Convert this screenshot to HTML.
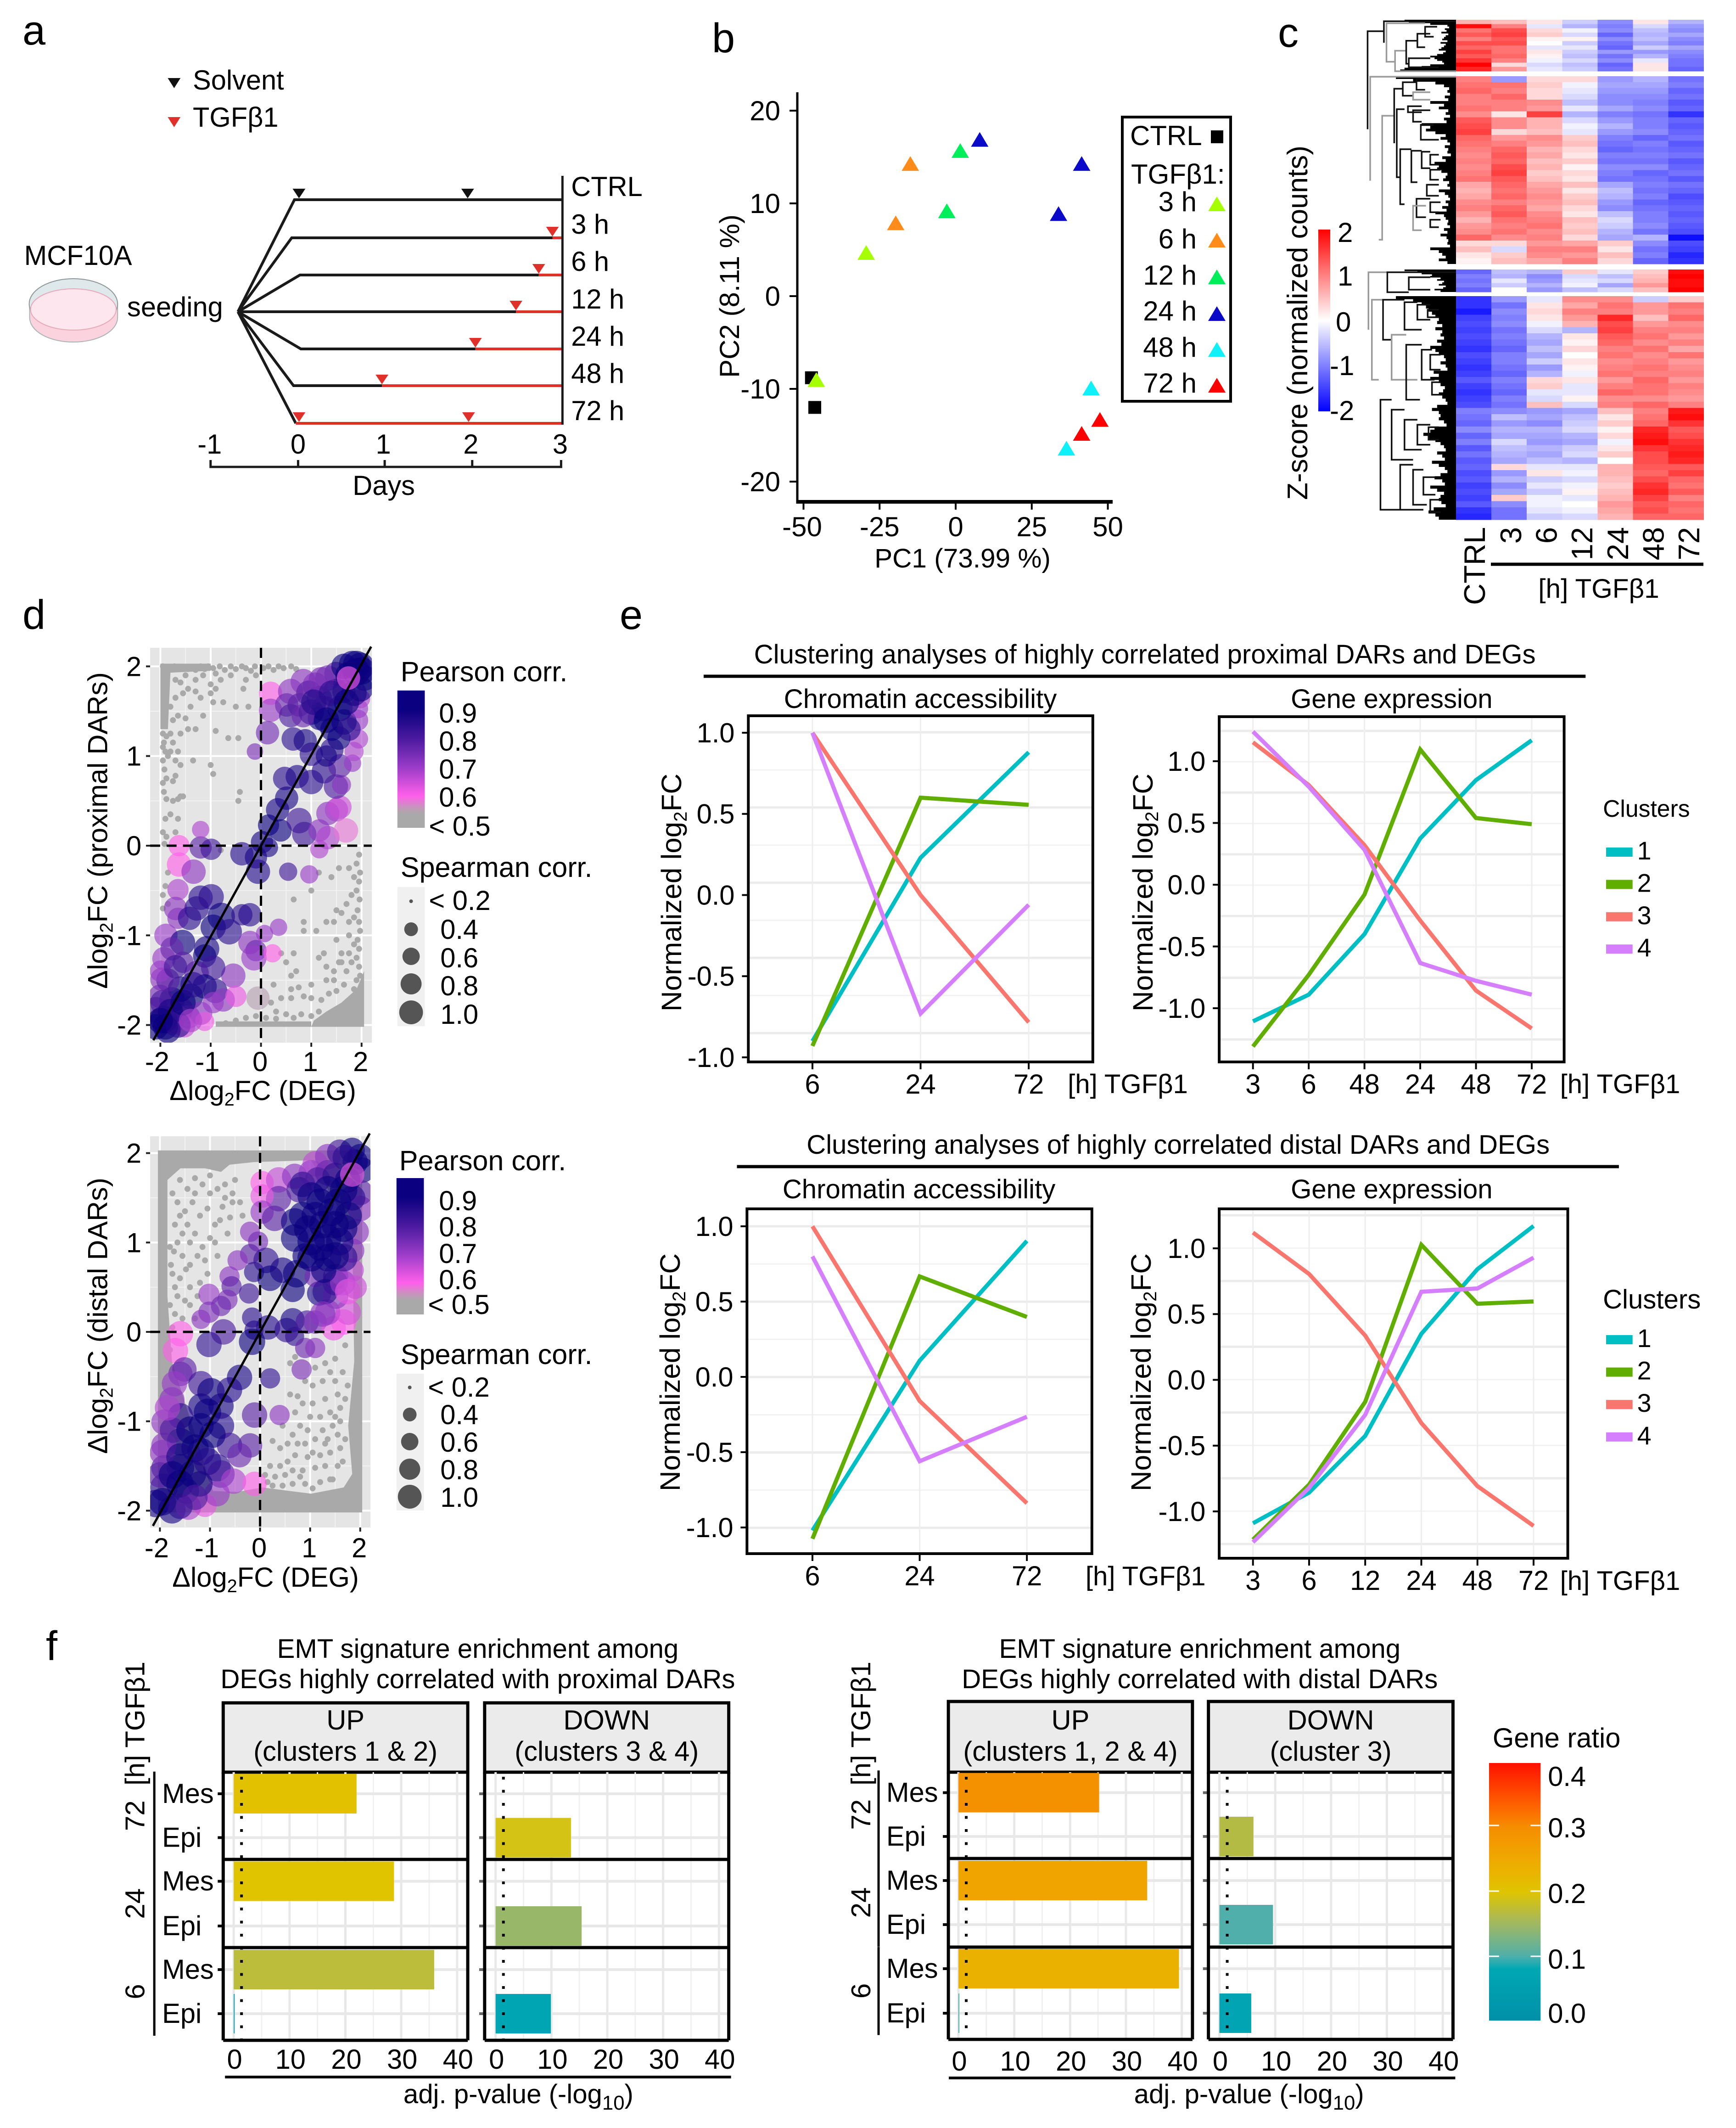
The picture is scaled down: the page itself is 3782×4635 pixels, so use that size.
<!DOCTYPE html>
<html lang="en">
<head>
<meta charset="utf-8">
<title>Chromatin accessibility and gene expression during TGFβ1-induced EMT</title>
<style>
html,body{margin:0;padding:0;background:#fff}
svg{display:block}
text{font-family:"Liberation Sans","DejaVu Sans",sans-serif;fill:#000;font-size:60px}
.letter{font-size:90px}
.mid{text-anchor:middle}
.end{text-anchor:end}
.t58{font-size:58.5px}
</style>
</head>
<body>
<svg id="figure" xmlns="http://www.w3.org/2000/svg" width="3782" height="4635" viewBox="0 0 3782 4635">
<defs>
<linearGradient id="zscoreGrad" x1="0" y1="0" x2="0" y2="1"><stop offset="0" stop-color="#ff0000"/><stop offset=".5" stop-color="#ffffff"/><stop offset="1" stop-color="#0000ff"/></linearGradient>
<linearGradient id="pearsonGrad" x1="0" y1="0" x2="0" y2="1"><stop offset="0" stop-color="#0a0080"/><stop offset=".14" stop-color="#0a0080"/><stop offset=".35" stop-color="#4a1a9e"/><stop offset=".56" stop-color="#9a3cc8"/><stop offset=".77" stop-color="#ff60ea"/><stop offset=".86" stop-color="#c09ab8"/><stop offset=".9" stop-color="#a9a9a9"/><stop offset="1" stop-color="#a9a9a9"/></linearGradient>
<linearGradient id="ratioGrad" x1="0" y1="0" x2="0" y2="1"><stop offset="0" stop-color="#ff1000"/><stop offset=".15" stop-color="#ff5a00"/><stop offset=".25" stop-color="#f58e00"/><stop offset=".38" stop-color="#efaa00"/><stop offset=".5" stop-color="#e0c400"/><stop offset=".62" stop-color="#a4b85f"/><stop offset=".75" stop-color="#50afaa"/><stop offset=".8" stop-color="#00a8b4"/><stop offset="1" stop-color="#0090a8"/></linearGradient>
<clipPath id="clipProx"><rect x="329" y="1411" width="486" height="860"/></clipPath>
<clipPath id="clipDist"><rect x="329" y="2475" width="483" height="852"/></clipPath>
</defs>

<!-- PANEL LETTERS -->
<text class="letter" x="49" y="97">a</text>
<text class="letter" x="1551" y="114">b</text>
<text class="letter" x="2784" y="102">c</text>
<text class="letter" x="49" y="1370">d</text>
<text class="letter" x="1350" y="1370">e</text>
<text class="letter" x="100" y="3616">f</text>

<!-- PANEL A -->
<g id="panelA" transform="translate(0 -4) scale(.993 1)">
  <polygon points="368,174 396,174 382,196" fill="#111"/>
  <text x="423" y="199">Solvent</text>
  <polygon points="368,259 396,259 382,281" fill="#e0302a"/>
  <text x="423" y="280">TGFβ1</text>
  <g fill="none" stroke="#1a1a1a" stroke-width="6">
    <path d="M522 683L646 439H1234"/>
    <path d="M522 683L640 522H1212"/>
    <path d="M522 683L658 603H1182"/>
    <path d="M522 683H1132"/>
    <path d="M522 683L660 764H1043"/>
    <path d="M522 683L644 844H838"/>
    <path d="M522 683L649 926"/>
  </g>
  <g fill="none" stroke="#e0302a" stroke-width="6">
    <path d="M1212 522H1234"/>
    <path d="M1182 603H1234"/>
    <path d="M1132 683H1234"/>
    <path d="M1043 764H1234"/>
    <path d="M838 844H1234"/>
    <path d="M649 926H1234"/>
  </g>
  <path d="M1234 387V929" stroke="#1a1a1a" stroke-width="5"/>
  <g fill="#e0302a">
    <polygon points="1198,498 1226,498 1212,519"/>
    <polygon points="1168,579 1196,579 1182,600"/>
    <polygon points="1118,659 1146,659 1132,680"/>
    <polygon points="1029,740 1057,740 1043,761"/>
    <polygon points="824,820 852,820 838,841"/>
    <polygon points="642,902 670,902 656,923"/>
    <polygon points="1014,902 1042,902 1028,923"/>
  </g>
  <polygon points="642,415 670,415 656,436" fill="#111"/>
  <polygon points="1012,415 1040,415 1026,436" fill="#111"/>
  <text x="1253" y="431">CTRL</text>
  <text x="1253" y="513">3 h</text>
  <text x="1253" y="594">6 h</text>
  <text x="1253" y="676">12 h</text>
  <text x="1253" y="757">24 h</text>
  <text x="1253" y="838">48 h</text>
  <text x="1253" y="919">72 h</text>
  <path d="M462 1006V1021H1231V1006M654 1006V1021M844 1006V1021M1036 1006V1021" fill="none" stroke="#1a1a1a" stroke-width="5"/>
  <text class="mid" x="460" y="992">-1</text>
  <text class="mid" x="654" y="992">0</text>
  <text class="mid" x="841" y="992">1</text>
  <text class="mid" x="1033" y="992">2</text>
  <text class="mid" x="1229" y="992">3</text>
  <text class="mid" x="842" y="1082">Days</text>
  <text x="53" y="581">MCF10A</text>
  <text x="279" y="693">seeding</text>
  <g>
    <path d="M65 666V695C65 726 108 749 161 749C214 749 258 726 258 695V666Z" fill="#fbd3de" stroke="#aab4b6" stroke-width="2"/>
    <ellipse cx="161" cy="666" rx="97" ry="55" fill="#dfe8ea" stroke="#8d9698" stroke-width="2"/>
    <ellipse cx="161" cy="678" rx="94" ry="45" fill="#fde6ee" stroke="#e8a8ba" stroke-width="2"/>
  </g>
</g>

<!-- PANEL B -->
<g id="panelB">
  <text class="mid t58" x="2097" y="1236">PC1 (73.99 %)</text>
  <text class="mid" transform="translate(1610 645) rotate(-90)">PC2 (8.11 %)</text>
  <rect x="2445" y="255" width="236" height="619" fill="#fff" stroke="#000" stroke-width="6"/>
  <text x="2462" y="316">CTRL</text>
  <text x="2464" y="400">TGFβ1:</text>
  <text class="end" x="2607" y="460">3 h</text>
  <text class="end" x="2607" y="541">6 h</text>
  <text class="end" x="2607" y="620">12 h</text>
  <text class="end" x="2607" y="698">24 h</text>
  <text class="end" x="2607" y="777">48 h</text>
  <text class="end" x="2607" y="855">72 h</text>
</g>

<!-- PANEL C -->
<g id="panelC">
  <text class="mid" transform="translate(2848 703) rotate(-90)" style="font-size:62px">Z-score (normalized counts)</text>
  <rect x="2872" y="500" width="26" height="396" fill="url(#zscoreGrad)"/>
  <text x="2914" y="527">2</text>
  <text x="2914" y="622">1</text>
  <text x="2910" y="722">0</text>
  <text x="2897" y="817">-1</text>
  <text x="2897" y="915">-2</text>
  <path d="M3248 1229H3711" stroke="#000" stroke-width="7"/>
  <text class="mid t58" x="3483" y="1302">[h] TGFβ1</text>
</g>

<!-- PANEL D legends and titles -->
<g id="panelD" transform="scale(.994 1)">
  <text class="mid" transform="translate(235 1809) rotate(-90)" style="font-size:61px">Δlog<tspan dy="12" font-size="40">2</tspan><tspan dy="-12">FC (proximal DARs)</tspan></text>
  <text class="mid" x="576" y="2396">Δlog<tspan dy="12" font-size="40">2</tspan><tspan dy="-12">FC (DEG)</tspan></text>
  <text class="mid" transform="translate(235 2866) rotate(-90)" style="font-size:61px">Δlog<tspan dy="12" font-size="40">2</tspan><tspan dy="-12">FC (distal DARs)</tspan></text>
  <text class="mid" x="582" y="3456">Δlog<tspan dy="12" font-size="40">2</tspan><tspan dy="-12">FC (DEG)</tspan></text>

  <text x="878" y="1484" style="font-size:61.5px">Pearson corr.</text>
  <rect x="871" y="1504" width="60" height="299" fill="url(#pearsonGrad)"/>
  <text x="962" y="1574">0.9</text>
  <text x="962" y="1635">0.8</text>
  <text x="962" y="1696">0.7</text>
  <text x="962" y="1757">0.6</text>
  <text x="940" y="1820">&lt; 0.5</text>
  <text x="878" y="1910" style="font-size:61.5px">Spearman corr.</text>
  <rect x="871" y="1932" width="60" height="303" fill="#f0f0f0"/>
  <g fill="#555">
    <circle cx="901" cy="1963" r="4"/>
    <circle cx="901" cy="2024" r="15"/>
    <circle cx="901" cy="2083" r="19"/>
    <circle cx="901" cy="2143" r="23"/>
    <circle cx="901" cy="2205" r="26"/>
  </g>
  <text x="940" y="1982">&lt; 0.2</text>
  <text x="965" y="2045">0.4</text>
  <text x="965" y="2107">0.6</text>
  <text x="965" y="2168">0.8</text>
  <text x="965" y="2230">1.0</text>

  <text x="875" y="2549" style="font-size:61.5px">Pearson corr.</text>
  <rect x="869" y="2566" width="60" height="297" fill="url(#pearsonGrad)"/>
  <text x="962" y="2636">0.9</text>
  <text x="962" y="2693">0.8</text>
  <text x="962" y="2751">0.7</text>
  <text x="962" y="2808">0.6</text>
  <text x="938" y="2862">&lt; 0.5</text>
  <text x="878" y="2971" style="font-size:61.5px">Spearman corr.</text>
  <rect x="869" y="2992" width="60" height="298" fill="#f0f0f0"/>
  <g fill="#555">
    <circle cx="898" cy="3022" r="4"/>
    <circle cx="898" cy="3081" r="15"/>
    <circle cx="898" cy="3140" r="19"/>
    <circle cx="898" cy="3200" r="23"/>
    <circle cx="898" cy="3260" r="26"/>
  </g>
  <text x="938" y="3042">&lt; 0.2</text>
  <text x="965" y="3102">0.4</text>
  <text x="965" y="3162">0.6</text>
  <text x="965" y="3222">0.8</text>
  <text x="965" y="3282">1.0</text>
</g>

<!-- PANEL E static -->
<g id="panelE" transform="translate(1350 0) scale(.994 1) translate(-1350 0)">
  <text class="mid t58" x="2501" y="1445">Clustering analyses of highly correlated proximal DARs and DEGs</text>
  <path d="M1534 1473H3467" stroke="#000" stroke-width="7"/>
  <text class="mid t58" x="2574" y="2513">Clustering analyses of highly correlated distal DARs and DEGs</text>
  <path d="M1607 2541H3540" stroke="#000" stroke-width="7"/>
  <text class="mid t58" x="2009" y="1542">Chromatin accessibility</text>
  <text class="mid t58" x="3042" y="1542">Gene expression</text>
  <text class="mid t58" x="2006" y="2610">Chromatin accessibility</text>
  <text class="mid t58" x="3042" y="2610">Gene expression</text>
  <text x="3505" y="1779" style="font-size:52px">Clusters</text>
  <text x="3505" y="2850" style="font-size:58.5px">Clusters</text>
  <text class="t58" x="2332" y="2381">[h] TGFβ1</text>
  <text class="t58" x="3411" y="2381">[h] TGFβ1</text>
  <text class="t58" x="2371" y="3453">[h] TGFβ1</text>
  <text class="t58" x="3411" y="3463">[h] TGFβ1</text>
</g>

<!-- PANEL F static -->
<g id="panelFLeft" transform="translate(200 0) scale(.994 1) translate(-200 0)">
  <text class="mid t58" x="1046" y="3611">EMT signature enrichment among</text>
  <text class="mid t58" x="1046" y="3677">DEGs highly correlated with proximal DARs</text>
  <text class="mid t58" x="1135" y="4581">adj. p-value (-log<tspan dy="14" font-size="44">10</tspan><tspan dy="-14">)</tspan></text>
  <path d="M492 4524H1601" stroke="#000" stroke-width="6"/>
</g>
<g id="panelFRight" transform="translate(1750 0) scale(.994 1) translate(-1750 0)">
  <text class="mid t58" x="2619" y="3611">EMT signature enrichment among</text>
  <text class="mid t58" x="2619" y="3677">DEGs highly correlated with distal DARs</text>
  <text class="mid t58" x="2727" y="4581">adj. p-value (-log<tspan dy="14" font-size="44">10</tspan><tspan dy="-14">)</tspan></text>
  <path d="M2069 4526H3179" stroke="#000" stroke-width="6"/>
  <text x="3261" y="3806">Gene ratio</text>
  <rect x="3253" y="3840" width="113" height="561" fill="url(#ratioGrad)"/>
  <path d="M3253 3976h22M3344 3976h22M3253 4119h22M3344 4119h22M3253 4261h22M3344 4261h22" stroke="#fff" stroke-width="3"/>
  <text x="3382" y="3890">0.4</text>
  <text x="3382" y="4002">0.3</text>
  <text x="3382" y="4145">0.2</text>
  <text x="3382" y="4288">0.1</text>
  <text x="3382" y="4406">0.0</text>
</g>
</svg>

<script>
/* ---------- PANEL B DATA ---------- */
const pcaTicksX = [-50, -25, 0, 25, 50];
const pcaTicksY = [20, 10, 0, -10, -20];
const pcaCtrlX = [-47.4, -46.3];
const pcaCtrlY = [-8.8, -12.0];
const pca3hX = [-29.4, -45.8];
const pca3hY = [4.7, -9.0];
const pca6hX = [-19.7, -14.9];
const pca6hY = [7.9, 14.3];
const pca12hX = [-2.9, 1.5];
const pca12hY = [9.2, 15.7];
const pca24hX = [7.9, 41.4, 33.8];
const pca24hY = [16.9, 14.3, 8.9];
const pca48hX = [44.5, 36.4];
const pca48hY = [-9.9, -16.4];
const pca72hX = [47.4, 41.4];
const pca72hY = [-13.3, -14.8];

/* ---------- PANEL C DATA ---------- */
const heatColumns = ['CTRL', '3', '6', '12', '24', '48', '72'];
const heatBlock1 = [
[.6,.5,.2,-.4,-.9,.2,-.6],[1.9,1.0,-.2,-.6,-1.0,-.3,-.8],[1.1,1.4,.3,-.1,-.9,-.5,-.9],[1.3,1.5,.4,-.3,-1.2,-.6,-.7],
[1.0,1.3,.1,.1,-.9,-.5,-.9],[1.4,1.4,.0,-.4,-1.1,-.7,-1.0],[1.2,1.1,-.2,-.2,-1.2,-.4,-.7],[1.5,1.1,.2,-.4,-.8,-.8,-.9],
[1.3,1.2,.1,-.5,-1.1,-.6,-1.0],[1.6,1.0,-.1,-.3,-.9,-.2,-1.1],[2.0,.3,-.3,-.5,-1.2,.2,-1.1],[1.7,.8,-.2,-.4,-1.1,.2,-1.2]];
const heatBlock2 = [
[1.0,-.8,.3,.3,-.8,-.6,-1.1],[1.1,1.1,.4,-.1,-.7,-.7,-1.0],[1.2,1.0,.3,-.2,-.8,-.8,-1.2],[1.0,1.2,.3,-.3,-.9,-.9,-1.1],
[1.0,1.0,.9,-.5,-.9,-1.0,-1.3],[1.1,1.0,.8,-.2,-.7,-.9,-1.2],[.9,.2,1.5,-.6,-1.0,-1.1,-1.6],[1.3,.9,.6,-.3,-.8,-1.0,-1.2],
[1.4,.9,.6,-.1,-.6,-1.0,-1.3],[1.5,.3,.5,-.2,-.8,-.9,-1.2],[1.2,.8,.9,.4,-1.0,-1.2,-1.1],[1.1,1.0,.8,.5,-1.1,-1.0,-1.3],
[1.0,1.2,.6,.3,-1.2,-1.1,-1.2],[.9,1.3,.7,.2,-1.0,-1.0,-1.1],[1.0,1.2,.5,.4,-1.1,-1.1,-1.3],[.9,1.4,.6,.1,-.9,-.9,-1.2],
[1.0,1.5,.4,.3,-1.0,-1.2,-1.1],[1.1,1.3,.5,.2,-1.1,-1.1,-1.3],[.7,1.2,.7,.5,-.7,-1.0,-1.1],[.6,1.1,.8,.2,-.5,-1.1,-1.2],
[.7,1.2,.9,.4,-.6,-1.0,-1.4],[.9,1.0,.8,.5,-.8,-1.2,-1.3],[1.0,1.2,.7,.3,-.9,-1.1,-1.2],[.8,1.3,.9,.2,-.5,-1.0,-1.3],
[.6,1.1,1.0,.5,-.3,-1.0,-1.2],[.8,1.0,1.1,.4,-.4,-.9,-1.3],[.9,1.1,.9,.5,-.6,-1.1,-1.4],[1.2,.9,1.0,.3,-.7,-.6,-1.9],
[.3,.3,.8,.7,.4,-.9,-1.4],[.5,-.3,1.0,1.0,.2,-1.1,-1.5],[.2,.4,.9,.8,.5,-1.0,-1.7],[.1,.5,.7,1.0,.3,-1.2,-1.6]];
const heatBlock3 = [[-1.2,-.5,-.6,.4,-.2,.4,1.9],[-1.0,-.6,-.9,-.3,-.5,.5,2.0],[-1.1,-.2,-.8,-.2,-.3,.6,1.9],[-1.0,-.4,-.6,-.1,-.7,.8,1.9],[-1.2,.0,-.8,-.5,-.3,.5,2.0]];
const heatBlock4 = [
[-1.6,-.8,-.2,.9,.9,-.4,.4],[-1.6,-1.1,.2,.7,1.1,.8,1.1],[-1.8,-.9,.3,1.0,1.0,.8,1.0],[-1.5,-1.0,.2,.8,1.7,.5,1.2],
[-1.4,-.9,-.1,.6,1.4,.8,.9],[-1.5,-1.1,-.3,-.6,1.5,1.0,1.0],[-1.4,-1.0,-.6,.2,1.3,1.1,.8],[-1.5,-1.1,-.7,.1,1.2,.9,1.0],
[-1.6,-1.2,-.5,.3,1.0,1.1,.7],[-1.4,-1.0,-.7,.0,1.1,.9,1.1],[-1.5,-1.0,-.4,.2,.9,1.0,.8],[-1.6,-1.1,-.8,.1,1.0,1.1,.9],
[-1.5,-1.2,-.6,-.1,1.1,1.0,1.0],[-1.3,-1.0,.3,.2,.8,1.2,.8],[-1.5,-1.1,.4,-.2,1.0,1.1,1.0],[-1.6,-1.2,-.2,-.2,1.2,1.1,.9],
[-1.5,-1.0,-.3,.1,.9,.9,.8],[-1.4,-1.1,.5,-.3,1.0,1.2,1.0],[-1.0,-.9,-.8,-.7,.5,1.0,1.8],[-1.1,-.5,-.7,-.5,.2,1.1,1.9],
[-1.2,-.8,-.9,-.4,.4,1.2,1.6],[-.9,-.6,-.6,-.3,.1,1.7,1.3],[-1.2,-.7,-.7,-.6,.3,1.8,1.4],[-1.0,-.3,-.8,-.7,-.1,1.9,1.6],
[-1.3,-.5,-.6,-.4,.2,1.6,1.7],[-1.1,-.6,-.7,-.3,.4,1.4,1.8],[-1.3,-.7,-.5,-.6,.0,1.4,1.7],[-1.2,.3,-.2,-.2,.6,1.3,1.3],
[-1.4,-.8,.2,-.1,.6,1.2,1.5],[-1.3,-.6,-.4,-.3,.5,1.4,1.2],[-1.5,-.9,-.2,-.1,.4,1.6,1.1],[-1.4,-.7,-.4,.1,.5,1.7,1.3],
[-1.5,.4,-.1,-.2,.6,1.5,1.0],[-1.3,-.9,-.1,.0,.8,1.3,1.2],[-1.6,-1.1,-.2,-.1,.7,1.4,1.1],[-1.7,-1.1,-.4,-.3,.6,1.2,1.2]];
const dendroBrackets = [
[1.03,.023,.219,.84,1.03,0],[.84,.003,.046,0,.84,0],[.81,.007,.084,.36,.71,1],[.71,.062,.103,.58,0,1],[.58,.042,.088,.45,.55,0],[.45,.028,.055,.3,.36,0],[.36,.014,.034,.22,.26,0],[.55,.077,.095,.3,.2,0],
[1.0,.114,.322,0,1.0,1],[.86,.192,.44,.72,.9,1],[.72,.138,.247,.62,.72,0],[.69,.179,.315,.6,.65,0],[.65,.259,.369,.52,.6,0],[.62,.125,.152,.46,.5,0],[.46,.118,.14,.3,.36,0],[.5,.145,.16,.3,.3,1],[.56,.173,.185,.4,.4,0],[.5,.181,.204,.3,.4,0],[.41,.21,.24,.26,.2,0],[.52,.262,.325,.4,.45,0],[.4,.264,.297,.3,.3,0],[.3,.27,.29,.2,.2,0],[.3,.3,.32,.18,.2,0],[.46,.358,.395,.3,.35,0],[.5,.372,.421,.35,.4,1],[.34,.33,.352,.2,.2,0],[.3,.365,.385,.18,.2,0],[.3,.4,.415,.18,.2,0],
[1.02,.505,.62,.8,1.02,1],[.8,.505,.545,0,.55,0],[.55,.515,.54,.3,.3,0],[.98,.56,.72,.85,.9,1],[.85,.56,.64,.6,.75,0],[.6,.565,.62,.45,.4,0],[.45,.57,.6,.3,.3,0],[.33,.58,.595,.2,.2,0],[.75,.63,.72,.58,.45,1],[.58,.65,.76,.4,.42,0],[.4,.66,.72,.28,.25,0],[.3,.67,.7,.18,.18,0],[.28,.725,.75,.18,.18,0],
[.88,.76,.98,.75,.65,0],[.75,.78,.88,.6,.5,0],[.6,.8,.86,.45,.4,0],[.45,.81,.85,.3,.3,0],[.32,.815,.84,.2,.2,0],[.65,.89,.98,.5,.38,0],[.5,.9,.97,.38,.34,0],[.38,.915,.95,.24,.24,0],[.3,.96,.985,.18,.18,0]];
const dendroFringe1 = [.6,.55,.3,.1,.08,.13,.11,.17,.09,.12,.14,.16,.1,.18,.12,.14,.17,.2,.12,.15,.22,.3,.25,.22,.16,.14,.3,.4,.6,.65];
const dendroFringe2 = [.7,.5,.24,.14,.08,.1,.07,.13,.09,.3,.14,.2,.09,.12,.07,.14,.11,.4,.3,.35,.24,.12,.18,.1,.07,.13,.09,.1,.06,.16,.12,.25,.2,.22,.17,.1,.12,.15,.08,.1,.07,.2,.13,.09,.07,.12,.09,.16,.11,.24,.14,.12,.09,.1,.07,.14,.1,.18,.11,.09,.1,.07,.3,.2,.16,.12,.2,.1];
const dendroFringe3 = [.6,.45,.4,.28,.3,.18,.22,.14,.16,.2,.12,.15,.25,.18];
const dendroFringe4 = [.7,.5,.4,.35,.32,.28,.24,.2,.22,.16,.24,.16,.18,.14,.22,.17,.3,.24,.2,.14,.12,.18,.12,.1,.26,.2,.3,.2,.18,.13,.15,.2,.16,.12,.1,.22,.28,.2,.18,.2,.14,.11,.25,.3,.38,.32,.24,.18,.14,.12,.22,.16,.13,.28,.2,.13,.1,.18,.25,.16,.13,.3,.22,.14,.18,.2,.17,.12,.26,.32,.24,.2];

/* ---------- PANEL D DATA ---------- [x, y] and [x, y, pearson, spearman] */
const scatterTicks = [-2, -1, 0, 1, 2];
const proximalDenseTopLeft = [[-2,2.03],[-1,2.03],[-1,1.95],[-1.8,1.93],[-1.85,1.3],[-2,1.3]];
const proximalDenseBottom = [[-.9,-2.02],[1,-2.02],[1,-1.96],[-.9,-1.96]];
const proximalDenseCorner = [[1,-2.02],[2.05,-2.02],[2.05,-1.4],[1.9,-1.6],[1.6,-1.75],[1.3,-1.85],[1.05,-1.95]];
const proximalBackground = [
[-1.95,2],[-1.72,2],[-1.45,1.97],[-1.3,1.96],[-1.2,2],[-1.12,1.97],[-1.05,2],[-.95,1.98],[-.82,2],[-.72,1.96],[-.6,2],[-.5,1.97],[-.38,2],[-.3,1.98],[-.2,1.95],[-.12,2],[.05,1.98],[.15,2],[.25,1.96],[.35,2],[.45,1.98],[.6,2],[.7,1.97],
[-1.95,1.25],[-1.88,1.22],[-1.93,1.15],[-1.95,1.1],[-1.9,1.05],[-1.85,1],[-1.95,.95],[-1.92,.85],[-1.88,.75],[-1.95,.7],[-1.93,.6],[-1.88,.52],[-1.9,.3],[-1.95,.15],[-1.88,.1],[-1.92,.02],
[-1.7,1.85],[-1.6,1.82],[-1.5,1.9],[-1.3,1.85],[-1,1.8],[-.8,1.85],[-.3,1.85],[-1.45,1.75],[-1.2,1.65],[-1,1.7],[-.95,1.6],[-.9,1.75],[-1.4,1.55],[-1.15,1.45],[-.75,1.6],[-.5,1.55],[-.25,1.55],[-1.65,1.45],[-1.5,1.42],[-1.45,1.3],[-1.3,1.3],[-1.6,1.25],[-.9,1.28],[-.65,1.2],[-.45,1.2],[-1.75,1.15],[-1.8,1.05],[-1.65,1.05],[-1.35,.95],[-1,.9],[-.95,.8],[-1.7,.78],[-1.75,.72],[-1.6,.55],[-1.65,.52],[-1.55,.55],[-.42,.6],[-.45,.5],[-1.65,.3],[-1.7,.15],[-.8,-.05],
[-1.8,1.55],[-1.75,1.4],[-1.8,1.25],[-1.7,1.65],[-1.55,1.7],[-1.3,1.72],[-1.7,.95],[-1.6,.9],[-1.75,.5],[-1.8,.35],[-1.85,-.3],[-1.9,-.45],[-1.95,-.55],[-1.95,-.7],[-1.85,-.65],[-.35,1.75],[-.1,1.9],[-.6,1.9],[-.9,1.92],[-1.15,1.9],
[1.95,-.1],[1.9,-.2],[1.97,-.3],[1.95,-.4],[1.9,-.5],[1.96,-.6],[1.92,-.72],[1.95,-.85],[1.97,-.95],[1.92,-1.05],[1.95,-1.15],[1.9,-1.25],[1.95,-1.35],[1.97,-1.45],[1.9,-1.5],[1.85,-1.6],
[1.85,-.35],[1.8,-.55],[1.85,-.8],[1.85,-1.1],[1.8,-1.3],[1.65,-1.55],[1.5,-1.62],[1.55,-1.3],
[1.55,-.25],[1.75,-.25],[1.4,-.35],[1.15,-.3],[1.7,-.65],[1.6,-.75],[1.5,-.72],[1.45,-.85],[1.3,-.85],[1.75,-.85],[.85,-.85],[.65,-.6],[1,-.5],[.85,-.95],[1.1,-.95],[1.5,-1.05],[1.75,-1],[1.6,-1.2],[1.75,-1.2],[1.25,-1.2],[1.15,-1.25],[.65,-1.2],[.4,-1.2],[.5,-1.3],[1.3,-1.35],[1.45,-1.4],[1.7,-1.4],[1.6,-1.3],[.7,-1.4],[.6,-1.45],[1.45,-1.5],[1.3,-1.5],[1,-1.55],[.75,-1.58],[.6,-1.6],[.25,-1.55],[.2,-1.75],[.4,-1.7],[.6,-1.7],[.85,-1.68],[1,-1.7],[1.2,-1.72],[1.35,-1.65],[.3,-1.85],[.5,-1.88],[.8,-1.88],
[-.7,-1.98],[-.5,-1.95],[-.3,-1.92],[-.1,-1.9],[.1,-1.92],[.3,-1.93],[.65,-1.92],[1,-1.9],[1.15,-1.85]];
const proximalCorrelated = [
[.19,1.7,.6,.8],[.19,1.51,.7,.8],[.13,1.26,.75,.8],[-.12,1.05,.74,.45],[.64,1.19,.85,.8],[.88,1.17,.88,.8],[1,1.02,.85,.8],[.47,.75,.85,.8],[.72,.77,.87,.8],[1,.71,.85,.85],[1.25,.83,.85,.85],[.51,.53,.88,.8],[.33,.4,.88,.8],[.15,.23,.92,.7],[.39,.17,.92,.75],[.02,.04,.88,.75],[.15,-.02,.88,.6],[.76,.28,.82,.9],[.86,.13,.82,.85],[1.16,.17,.72,.75],[1.16,-.04,.68,.55],[1.33,.09,.68,.8],[1.33,.36,.72,.8],[1.5,.4,.68,.8],[1.57,.43,.65,.8],[1.69,.17,.58,.85],[1.49,.66,.8,.85],[1.6,.68,.72,.6],[1.57,.89,.78,.8],[1.41,1.07,.85,.8],[1.82,.92,.7,.5],[1.94,1.19,.68,.6],[1.85,1.05,.68,.6],[1.92,1.4,.7,.7],[1.3,1,.88,.7],
[.59,1.72,.72,.9],[.84,1.83,.72,.9],[1.08,1.79,.72,.9],[1.33,1.87,.75,.9],[1.49,1.92,.78,.8],[.51,1.57,.76,.8],[.76,1.57,.78,.8],[.59,1.45,.8,.8],[1,1.49,.88,.9],[1.25,1.53,.88,.9],[1.16,1.42,.88,.8],[1.57,1.53,.92,.9],[1.65,1.38,.92,.9],[1.41,1.3,.92,.8],[.84,1.45,.76,.8],[1.16,1.64,.82,.9],[1.49,1.72,.85,.9],[1.94,1.53,.7,.6],[1.98,1.64,.68,.6],[1.98,1.75,.9,.9],[1.65,1.72,.86,.8],[1.9,1.94,.92,1],[1.82,2.02,.96,1],[1.98,2,.96,1],[2.06,1.87,.92,.9],[1.65,2,.93,.9],
[.95,1.7,.78,.9],[1.2,1.85,.74,.9],[1.4,1.7,.85,.9],[1.05,1.6,.86,.9],[1.3,1.4,.9,.9],[1.55,1.2,.9,.8],[1.7,1.6,.9,.9],[1.85,1.7,.88,.9],[1.75,1.9,.93,1],[2,1.95,.96,1],[1.9,2.02,.96,1],[1.75,1.3,.85,.8],[1.74,1.87,.6,.8],
[-1.63,0,.6,.7],[-1.63,-.21,.6,.85],[-1.34,-.29,.72,.85],[-1.65,-.49,.68,.7],[-1.7,-.7,.72,.8],[-1.65,-.81,.72,.7],[-.99,-.57,.85,.9],[-1.2,-.58,.85,.85],[-1.28,-.7,.85,.85],[-1.42,-.81,.85,.8],[-.79,-.79,.9,1],[-.95,-.91,.9,.9],[-.63,-.96,.85,.9],[-.22,-.77,.85,.8],[-.38,-.77,.85,.7],[-1.89,-1,.7,.8],[-1.56,-1.08,.9,.9],[-1.08,-1.15,.88,.9],[-1.12,-1.23,.9,.8],[-.22,-1.08,.72,.8],[-.1,-1.17,.76,.7],[-.14,-1.25,.7,.9],[.23,-1.2,.6,.55],[.07,-.98,.7,.5],[.35,-.91,.7,.5],[.54,-.29,.82,.55],[.96,-.32,.7,.55],[-.38,-.09,.86,.8],[-.1,-.13,.88,.75],[-.06,-.29,.86,.85],[-1.2,-.02,.78,.75],[-.99,-.04,.82,.7],[-1.2,.18,.68,.5],[-.55,-1.45,.72,.85],[-.95,-1.36,.82,.85],[-1.28,-1.42,.8,.85],[-1.12,-1.57,.9,.85],[-.91,-1.62,.85,.85],[-1.4,-1.68,.92,.9],[-.75,-1.72,.72,.8],[-.5,-1.68,.62,.7],[-.06,-1.7,.53,.8],[-1.93,-1.26,.7,.8],[-1.77,-1.15,.76,.8],[-1.97,-1.49,.72,.8],[-2.01,-1.68,.75,.8],[-1.77,-1.72,.85,.9],[-1.6,-1.83,.8,.9],[-2.09,-1.83,.8,.9],[-1.77,-1.98,.66,.8],[-1.44,-1.91,.72,.8],[-1.2,-1.87,.72,.8],[-.95,-1.75,.7,.7],[-1.12,-1.96,.62,.6],[-1.52,-2.02,.65,.7],[-1.6,-1.6,.92,.9],[-1.93,-1.94,.88,1],[-2.09,-2.02,.9,.9],[-1.85,-2.06,.92,.9],
[-1.95,-1.75,.8,.9],[-1.8,-1.85,.88,.9],[-1.9,-2.02,.92,.9],[-1.65,-2,.85,.9],[-2,-1.95,.9,.9],[-1.55,-1.75,.9,.9],[-1.35,-1.55,.85,.9],[-1.85,-1.5,.78,.8],[-1.4,-1.95,.68,.8],[-2,-1.4,.7,.7],[-1.55,-1.3,.78,.7],[-1.7,-1.35,.82,.8]];
const distalDenseOuter = [[-2.04,2.03],[2.04,2.03],[2.04,-2.02],[-2.04,-2.02]];
const distalDenseInner = [[-1.85,1.7],[-1.59,1.83],[-1.1,1.83],[-.78,1.79],[-.61,1.87],[-.12,1.9],[1.02,1.92],[1.84,1.12],[1.88,-.33],[1.76,-1.05],[1.84,-1.59],[1.67,-1.74],[1.02,-1.81],[.04,-1.74],[-.45,-1.79],[-.94,-1.78],[-1.76,-.33],[-1.85,.4],[-1.85,1.12]];
const distalBackground = [
[-1.75,1.55],[-1.6,1.7],[-1.45,1.6],[-1.3,1.72],[-1.15,1.65],[-1,1.75],[-.85,1.6],[-.7,1.65],[-.55,1.55],[-.5,1.7],[-.4,1.45],[-1.65,1.45],[-1.5,1.35],[-1.35,1.45],[-1.2,1.3],[-1.05,1.38],[-.9,1.2],[-.8,1.25],[-.75,1.4],[-.6,1.28],[-.35,1.3],[-1.7,1.2],[-1.55,1.1],[-1.45,1.2],[-1.3,1.1],[-1,1.05],[-.65,1.1],[-1.72,.9],[-1.55,.85],[-1.4,.75],[-1.25,.85],[-1.1,.8],[-.85,.85],[-1.75,.65],[-1.6,.6],[-1.48,.7],[-1.2,.55],[-1.65,.4],[-1.5,.35],[-1.4,.3],[-1.25,.4],[-1.7,.2],[-1.55,.15],[-1.75,.05],
[-1.8,.95],[-1.78,.75],[-1.7,.5],[-1.8,.3],[-1.65,1],[-1.4,1],[-1.15,.95],[-.9,1],[-1.6,1.3],[-1.3,1.55],[-1,1.55],[-.7,1.5],[-.55,1.45],[-1.05,.65],[-1.4,.5],[-1.3,.15],[-1.85,-.1],[-1.8,-.2],
[.7,-.28],[.6,-.35],[1.3,-.35],[1.5,-.3],[1.65,-.45],[1.5,-.55],[1.25,-.55],[1.05,-.6],[.6,-.7],[.75,-.72],[1.55,-.7],[1.3,-.75],[1.05,-.8],[.85,-.8],[1.6,-.85],[1.4,-.9],[1.45,-1.05],[1.2,-.95],[.8,-1.05],[.65,-1.15],[1.55,-1.15],[1.35,-1.2],[1.1,-1.2],[.9,-1.25],[.55,-1.25],[.4,-1.3],[.25,-1.22],[1.6,-1.3],[1.4,-1.35],[1.2,-1.38],[.95,-1.4],[.7,-1.38],[.55,-1.45],[.4,-1.5],[.2,-1.5],[1.55,-1.5],[1.3,-1.5],[1.1,-1.52],[.85,-1.55],[.65,-1.55],[.3,-1.62],[1.4,-1.65],[1.2,-1.68],[.9,-1.7],[.65,-1.7],[.45,-1.72],[.25,-1.72],
[1.7,-.15],[1.75,-.6],[1.7,-.75],[1.6,-1],[1.7,-1.2],[1.65,-1.45],[1.5,-.95],[1,-.95],[.7,-.9],[.95,-1.1],[1.25,-1.1],[.45,-1.05],[.5,-1.6],[.75,-1.25],[1.05,-1.35],[1.3,-1.25],[1.45,-1.65],[1.05,-1.75],[.8,-1.62],[.1,-1.6],[.15,-1.68],[1.1,-.4],[.9,-.55],[1.4,-.45]];
const distalCorrelated = [
[.04,1.67,.6,.8],[.37,1.7,.66,.9],[.69,1.74,.72,.9],[1.1,1.88,.66,.9],[1.35,1.96,.72,.9],[1.59,2.01,.82,.9],[1.84,2.03,.92,.9],[2,1.96,.95,.9],[2.04,1.81,.92,.9],[1.02,1.78,.7,.9],[1.35,1.78,.76,.9],[.78,1.59,.8,.9],[.37,1.49,.78,.9],[.04,1.52,.62,.8],[.04,1.34,.7,.8],[.29,1.27,.78,.9],[-.2,1.12,.72,.65],[-.04,1.01,.75,.65],[-.2,.87,.78,.65],[-.45,.8,.72,.65],[.12,.8,.84,.9],[-.12,.67,.85,.65],[.2,.6,.92,.9],[.45,.69,.88,.9],[.73,.65,.92,1],[.65,.47,.95,.85],[-.61,.62,.72,.65],[-.57,.51,.78,.65],[-.22,.43,.82,.65],[-1.02,.42,.7,.7],[-.65,.36,.74,.65],[-.78,.29,.76,.65],[-1.02,.22,.74,.7],[-1.18,.14,.72,.6],[-.16,.16,.85,.65],[-.12,.02,.86,.6],[.16,.05,.86,.85],[.53,.02,.84,.85],[.65,.13,.88,.85],[.69,-.05,.84,.6],[.94,.11,.8,.8],[1.1,.11,.74,.8],[-.73,0,.8,.9],[-1.02,-.14,.84,.9],[-1.59,-.02,.6,.9],[-1.69,-.21,.6,.9],[-.16,-.11,.95,.95],[.9,-.18,.76,.65],[1.1,-.18,.72,.65],[.83,-.42,.74,.65],[.2,-.52,.84,.65],[-.41,-.51,.88,.9],[1.47,.04,.62,.85],[1.67,.11,.6,.9],[1.35,.22,.7,.9],[1.18,.43,.88,.85],[1.1,.62,.75,.7],[1.76,.22,.64,.9],[1.51,.4,.72,.9],[1.51,.62,.78,.9],[1.84,.69,.66,.8],[1.84,.91,.72,.85],[1.92,1.12,.72,.9],[2,1.38,.72,.9],[2,1.56,.78,.9],
[1.5,.55,.8,.9],[1.3,.45,.85,.9],[1.65,.55,.7,.9],[1.75,.45,.62,.9],[1.25,.2,.72,.9],[1.9,.5,.65,.8],[.85,1.65,.85,.9],[1.15,1.7,.8,.9],[1.5,1.75,.85,.9],[1.75,1.7,.9,.9],[1.85,1.5,.85,.9],[1.9,1.9,.95,.9],[1.7,1.95,.85,.9],
[1.27,.69,.9,.9],[.69,1.05,.94,1],[1.02,1.01,.94,1],[1.35,1.05,.94,1],[1.59,1.01,.93,1],[.69,1.23,.93,1],[1.1,1.3,.94,1],[1.43,1.34,.95,1],[1.76,1.3,.92,1],[1.02,1.52,.94,1],[1.35,1.59,.94,1],[1.67,1.59,.94,1],[1.35,.83,.9,1],[1.02,.83,.92,1],[1.67,.83,.85,1],[1.67,1.16,.9,1],
[.85,1.3,.93,1],[1.25,1.2,.95,1],[1.5,1.2,.94,1],[.95,1.15,.95,1],[1.2,1.45,.94,1],[1.55,1.45,.93,1],[.9,.85,.93,.9],[1.2,.95,.95,1],[1.5,.85,.9,1],[1.84,1.76,.62,.85],
[-1.51,-.42,.78,.85],[-1.59,-.47,.76,.85],[-1.71,-.58,.7,.9],[-1.76,-.76,.72,.9],[-1.18,-.58,.82,.9],[-.98,-.67,.94,1],[-.61,-.65,.86,.9],[-.78,-.83,.88,.9],[-1.18,-.83,.88,.9],[-1.59,-.94,.85,.9],[-1.92,-1.01,.72,.9],[-.78,-1.05,.86,.95],[-1.18,-1.05,.9,.9],[-.11,-.93,.78,.9],[.39,-.93,.72,.65],[-.2,-1.27,.78,.85],[-.61,-1.27,.82,.9],[-.41,-1.38,.76,.85],[-1.18,-1.34,.88,1],[-1.59,-1.23,.92,1],[-1.92,-1.27,.72,.9],[-.86,-1.52,.84,1],[-.78,-1.59,.8,1],[-.53,-1.67,.68,.9],[-.11,-1.7,.6,.85],[-1.35,-1.59,.9,1],[-1.59,-1.52,.9,1],[-1.92,-1.52,.8,.9],[-1.47,-1.78,.92,.9],[-1.92,-1.74,.85,1],[-2.08,-1.92,.88,1],[-1.76,-1.99,.88,1],[-1.1,-1.94,.62,.8],[-1.43,-1.96,.68,.9],[-.86,-1.81,.7,.9],
[-1.75,-1.1,.8,.9],[-1.95,-1.35,.72,.9],[-1.85,-.85,.68,.9],[-2,-1.6,.78,.9],[-1.4,-1.1,.9,1],[-1.05,-.9,.92,1],[-.95,-1.15,.9,.95],[-1.3,-1.3,.92,1],[-1.6,-1.4,.88,1],[-1.05,-1.45,.86,1],[-1.2,-1.7,.88,.9],[-1.6,-1.7,.92,1],[-1.75,-1.6,.9,1],[-1.95,-1.9,.9,1],[-1.6,-1.95,.85,.9],[-1.3,-1.85,.8,.9]];

/* ---------- PANEL E DATA ---------- */
const eTickLabels = ['1.0', '0.5', '0.0', '-0.5', '-1.0'];
const eTickValues = [1, .5, 0, -.5, -1];
const chromatinTimes = ['6', '24', '72'];
const proximalExpressionTimes = ['3', '6', '48', '24', '48', '72'];
const distalExpressionTimes = ['3', '6', '12', '24', '48', '72'];
const proxChromatin1 = [-.90, .23, .88];
const proxChromatin2 = [-.93, .60, .556];
const proxChromatin3 = [1.0, 0.0, -.784];
const proxChromatin4 = [1.0, -.73, -.06];
const proxExpression1 = [-1.106, -.89, -.40, .375, .847, 1.17];
const proxExpression2 = [-1.31, -.73, -.08, 1.095, .54, .49];
const proxExpression3 = [1.153, .807, .32, -.29, -.857, -1.164];
const proxExpression4 = [1.24, .794, .283, -.634, -.778, -.89];
const distChromatin1 = [-1.02, .108, .903];
const distChromatin2 = [-1.075, .667, .398];
const distChromatin3 = [1.0, -.16, -.839];
const distChromatin4 = [.80, -.56, -.265];
const distExpression1 = [-1.09, -.857, -.426, .35, .842, 1.17];
const distExpression2 = [-1.214, -.796, -.167, 1.027, .579, .596];
const distExpression3 = [1.12, .805, .337, -.328, -.808, -1.11];
const distExpression4 = [-1.234, -.82, -.266, .67, .695, .929];
const clusterNames = ['1', '2', '3', '4'];

/* ---------- PANEL F DATA ---------- order: Mes 72, Epi 72, Mes 24, Epi 24, Mes 6, Epi 6 */
const enrichmentTerms = ['Mes', 'Epi', 'Mes', 'Epi', 'Mes', 'Epi'];
const enrichmentTimes = ['72', '24', '6'];
const enrichmentTicks = [0, 10, 20, 30, 40];
const enrichmentThreshold = 1.4;
const proximalUpValues = [22, 0, 28.7, 0, 35.9, .15];
const proximalUpRatios = [.205, 0, .2, 0, .17, .07];
const proximalDownValues = [0, 13.5, 0, 15.4, 0, 9.9];
const proximalDownRatios = [0, .19, 0, .145, 0, .07];
const distalUpValues = [25.2, 0, 33.8, 0, 39.5, .1];
const distalUpRatios = [.295, 0, .26, 0, .235, .1];
const distalDownValues = [0, 6.1, 0, 9.6, 0, 5.7];
const distalDownRatios = [0, .165, 0, .1, 0, .065];

/* ---------- HELPERS ---------- */
const NS = 'http://www.w3.org/2000/svg';
const root = document.getElementById('figure');
function make(tag, parent, attrs) {
  const el = document.createElementNS(NS, tag);
  for (const k in attrs) el.setAttribute(k, attrs[k]);
  parent.appendChild(el);
  return el;
}
function group(parentId) { return make('g', document.getElementById(parentId), {}); }
function write(parent, x, y, str, anchor) {
  const el = make('text', parent, { x: x, y: y, 'text-anchor': anchor || 'start' });
  el.textContent = str;
  return el;
}
function mix(a, b, t) {
  const pa = [1, 3, 5].map(i => parseInt(a.substr(i, 2), 16));
  const pb = [1, 3, 5].map(i => parseInt(b.substr(i, 2), 16));
  return 'rgb(' + pa.map((v, i) => Math.round(v + (pb[i] - v) * t)).join(',') + ')';
}
function ramp(stops, t) {
  for (let i = 1; i < stops.length; i++) {
    if (t <= stops[i][0]) return mix(stops[i - 1][1], stops[i][1], (t - stops[i - 1][0]) / (stops[i][0] - stops[i - 1][0]));
  }
  return stops[stops.length - 1][1];
}
function pointsAttr(list, sx, sy) { return list.map(p => sx(p[0]) + ',' + sy(p[1])).join(' '); }

/* ---------- PANEL B ---------- */
(function () {
  const sx = v => 2082 + v * 6.63;
  const sy = v => 645 - v * 20.2;
  const g = group('panelB');
  
  
  const yAxis = make('line', g, { x1: 1737, x2: 1737, y1: 201, y2: 1097, stroke: '#000', 'stroke-width': 5 });
  
  
  const xAxis = make('line', g, { x1: 1735, x2: 2424, y1: 1093, y2: 1093, stroke: '#000', 'stroke-width': 8 });
  
  
  pcaTicksX.forEach(v => {
    const t = make('line', g, { x1: sx(v), x2: sx(v), y1: 1093, y2: 1110, stroke: '#000', 'stroke-width': 4 });
    
    
    const l = write(g, sx(v) + (v === -50 ? -3 : 0), 1168, String(v), 'middle');
    
    
  });
  pcaTicksY.forEach(v => {
    const t = make('line', g, { x1: 1720, x2: 1737, y1: sy(v), y2: sy(v), stroke: '#000', 'stroke-width': 4 });
    
    
    const l = write(g, 1700, sy(v) + 21, String(v), 'end');
    
    
  });
  pcaCtrlX.forEach((v, i) => {
    const s = make('rect', g, { x: sx(v) - 14, y: sy(pcaCtrlY[i]) - 14, width: 28, height: 28, fill: '#000' });
    
    
  });
  const groups = [[pca3hX, pca3hY, '#a6ff00'], [pca6hX, pca6hY, '#ff8c1a'], [pca12hX, pca12hY, '#00ee5a'], [pca24hX, pca24hY, '#0a0ac8'], [pca48hX, pca48hY, '#10f0f8'], [pca72hX, pca72hY, '#ff0000']];
  const legendY = [444, 523, 603, 683, 761, 839];
  groups.forEach((s, gi) => {
    s[0].forEach((v, i) => {
      const x = sx(v), y = sy(s[1][i]);
      const p = make('polygon', g, { points: (x - 19) + ',' + (y + 16) + ' ' + (x + 19) + ',' + (y + 16) + ' ' + x + ',' + (y - 16), fill: s[2] });
      
      
    });
    const k = make('polygon', g, { points: '2632,' + (legendY[gi] + 16) + ' 2670,' + (legendY[gi] + 16) + ' 2651,' + (legendY[gi] - 16), fill: s[2] });
    
    
  });
  const ks = make('rect', g, { x: 2638, y: 284, width: 27, height: 28, fill: '#000' });
  
  
})();

/* ---------- PANEL C ---------- */
(function () {
  const g = group('panelC');
  
  
  const left = 3172, colW = 77.1;
  const blocks = [[heatBlock1, 43, 155, dendroFringe1], [heatBlock2, 166, 575, dendroFringe2], [heatBlock3, 587, 636, dendroFringe3], [heatBlock4, 645, 1132, dendroFringe4]];
  const color = z => z >= 0 ? mix('#ffffff', '#ff0000', Math.min(1, z / 2)) : mix('#ffffff', '#0000ff', Math.min(1, -z / 2));
  const dx = d => left - d * 187;
  const fy = f => 43 + f * 1089;
  blocks.forEach(b => {
    const h = (b[2] - b[1]) / b[0].length;
    b[0].forEach((row, r) => {
      row.forEach((z, c) => {
        const cell = make('rect', g, { x: left + c * colW, y: b[1] + r * h, width: colW + .5, height: h + .5, fill: color(z), 'shape-rendering': 'crispEdges' });
        
        
      });
    });
    const fh = (b[2] - b[1]) / b[3].length;
    let d = 'M' + left + ' ' + b[1];
    b[3].forEach((v, i) => { d += 'H' + dx(v) + 'V' + (b[1] + (i + 1) * fh); });
    d += 'H' + left + 'Z';
    const fringe = make('path', g, { d: d, fill: '#000' });
    
    
  });
  dendroBrackets.forEach(b => {
    const d = 'M' + dx(b[3]) + ' ' + fy(b[1]) + 'H' + dx(b[0]) + 'V' + fy(b[2]) + 'H' + dx(b[4]);
    const br = make('path', g, { d: d, fill: 'none', stroke: b[5] ? '#9a9a9a' : '#111', 'stroke-width': 3.5 });
    
    
  });
  heatColumns.forEach((name, i) => {
    const x = i === 0 ? 3235 : 3314 + (i - 1) * 77.6;
    const l = make('text', g, { transform: 'translate(' + x + ' 1148) rotate(-90)', 'text-anchor': 'end' });
    l.textContent = name;
    l.style.fontSize = '65px';
    
    
  });
})();

/* ---------- PANEL D ---------- */
function pearsonColor(p) {
  return ramp([[.5, '#a9a9a9'], [.55, '#c09ab8'], [.6, '#ff60ea'], [.7, '#9a3cc8'], [.8, '#4a1a9e'], [.9, '#0a0080'], [1, '#0a0080']], p);
}
function spearmanRadius(s) {
  const sizes = [[.2, 5], [.4, 17], [.6, 21], [.8, 25.5], [1, 30]];
  for (let i = 1; i < sizes.length; i++) {
    if (s <= sizes[i][0]) return sizes[i - 1][1] + (sizes[i][1] - sizes[i - 1][1]) * (s - sizes[i - 1][0]) / .2;
  }
  return 30;
}
function drawScatter(c) {
  const g = group('panelD');
  
  
  const sx = v => c.x0 + v * c.ux;
  const sy = v => c.y0 - v * c.uy;
  const bg = make('rect', g, { x: c.l, y: c.t, width: c.r - c.l, height: c.b - c.t, fill: '#e5e5e5' });
  
  
  [-1.5, -.5, .5, 1.5].forEach(v => {
    const a = make('line', g, { x1: sx(v), x2: sx(v), y1: c.t, y2: c.b, stroke: '#f2f2f2', 'stroke-width': 2 });
    
    
    const b = make('line', g, { x1: c.l, x2: c.r, y1: sy(v), y2: sy(v), stroke: '#f2f2f2', 'stroke-width': 2 });
    
    
  });
  scatterTicks.forEach(v => {
    const a = make('line', g, { x1: sx(v), x2: sx(v), y1: c.t, y2: c.b, stroke: '#fff', 'stroke-width': 4 });
    
    
    const b = make('line', g, { x1: c.l, x2: c.r, y1: sy(v), y2: sy(v), stroke: '#fff', 'stroke-width': 4 });
    
    
    const tx = make('line', g, { x1: sx(v), x2: sx(v), y1: c.b, y2: c.b + 9, stroke: '#222', 'stroke-width': 4 });
    
    
    const ty = make('line', g, { x1: c.l - 9, x2: c.l, y1: sy(v), y2: sy(v), stroke: '#222', 'stroke-width': 4 });
    
    
    const lx = write(g, sx(v) - (v < 0 ? 7 : 2), c.xLabelY, String(v), 'middle');
    
    
    const ly = write(g, 310, sy(v) + 21, String(v), 'end');
    
    
  });
  const inner = make('g', g, { 'clip-path': 'url(#' + c.clip + ')' });
  c.dense.forEach(poly => {
    const d = make('polygon', inner, { points: pointsAttr(poly, sx, sy), fill: '#a9a9a9' });
    
    
  });
  if (c.denseRing) {
    const path = 'M' + pointsAttr(c.denseRing[0], sx, sy).split(' ').join('L') + 'Z M' + pointsAttr(c.denseRing[1], sx, sy).split(' ').join('L') + 'Z';
    const ring = make('path', inner, { d: path, fill: '#a9a9a9', 'fill-rule': 'evenodd' });
    
    
  }
  c.background.forEach(p => {
    const pt = make('circle', inner, { cx: sx(p[0]), cy: sy(p[1]), r: 6.5, fill: '#a9a9a9' });
    
    
  });
  c.points.forEach(p => {
    const pt = make('circle', inner, { cx: sx(p[0]), cy: sy(p[1]), r: spearmanRadius(p[3]), fill: pearsonColor(p[2]), 'fill-opacity': .62 });
    
    
  });
  const h = make('line', g, { x1: c.l, x2: c.r, y1: sy(0), y2: sy(0), stroke: '#000', 'stroke-width': 5, 'stroke-dasharray': '22 14' });
  
  
  const v = make('line', g, { x1: sx(0), x2: sx(0), y1: c.t, y2: c.b, stroke: '#000', 'stroke-width': 5, 'stroke-dasharray': '22 14' });
  
  
  const diag = make('line', g, { x1: sx(-2.14), y1: sy(-2.17), x2: sx(2.19), y2: sy(2.22), stroke: '#000', 'stroke-width': 5 });
  
  
}
drawScatter({ x0: 572, ux: 110.25, y0: 1842, uy: 195.3, l: 329, r: 815, t: 1411, b: 2271, xLabelY: 2333, clip: 'clipProx', dense: [proximalDenseTopLeft, proximalDenseBottom, proximalDenseCorner], background: proximalBackground, points: proximalCorrelated });
drawScatter({ x0: 570, ux: 109.75, y0: 2901, uy: 194.7, l: 329, r: 812, t: 2475, b: 3327, xLabelY: 3392, clip: 'clipDist', dense: [], denseRing: [distalDenseOuter, distalDenseInner], background: distalBackground, points: distalCorrelated });

/* ---------- PANEL E ---------- */
const clusterColors = ['#00bfc4', '#5fae00', '#f8766d', '#d57fff'];
function drawLines(c) {
  const g = group('panelE');
  
  
  const sx = i => c.x0 + i * c.dx;
  const sy = v => c.y1 + (1 - v) * c.unit;
  for (let i = 0; i * c.gridStep + c.gridStart < c.b; i++) {
    const y = c.gridStart + i * c.gridStep;
    const l = make('line', g, { x1: c.l, x2: c.r, y1: y, y2: y, stroke: i % 2 ? '#f2f2f2' : '#ebebeb', 'stroke-width': i % 2 ? 3 : 5 });
    
    
  }
  c.times.forEach((t, i) => {
    const l = make('line', g, { x1: sx(i), x2: sx(i), y1: c.t, y2: c.b, stroke: '#eeeeee', 'stroke-width': 3 });
    
    
    const tk = make('line', g, { x1: sx(i), x2: sx(i), y1: c.b, y2: c.b + 16, stroke: '#000', 'stroke-width': 4 });
    
    
    const lb = write(g, sx(i), c.labelY, t, 'middle');
    
    
  });
  eTickValues.forEach((v, i) => {
    const tk = make('line', g, { x1: c.l - 14, x2: c.l, y1: sy(v), y2: sy(v), stroke: '#000', 'stroke-width': 4 });
    
    
    const lb = write(g, c.l - 30, sy(v) + 21, eTickLabels[i], 'end');
    
    
  });
  c.series.forEach((vals, s) => {
    const pts = vals.map((v, i) => sx(i) + ',' + sy(v)).join(' ');
    const pl = make('polyline', g, { points: pts, fill: 'none', stroke: clusterColors[s], 'stroke-width': 9, 'stroke-linejoin': 'miter' });
    
    
  });
  const box = make('rect', g, { x: c.l, y: c.t, width: c.r - c.l, height: c.b - c.t, fill: 'none', stroke: '#000', 'stroke-width': 6 });
  
  
  const title = make('text', g, { transform: 'translate(' + c.titleX + ' ' + c.titleY + ') rotate(-90)', 'text-anchor': 'middle' });
  title.style.fontSize = '62px';
  title.appendChild(document.createTextNode('Normalized log'));
  const sub = make('tspan', title, { dy: 12, 'font-size': 40 });
  sub.textContent = '2';
  const rest = make('tspan', title, { dy: -12 });
  rest.textContent = 'FC';
  
  
}
drawLines({ l: 1632, r: 2387, t: 1559, b: 2313, x0: 1772.5, dx: 237, y1: 1596, unit: 353.5, gridStart: 1595, gridStep: 81.9, times: chromatinTimes, labelY: 2382, titleX: 1485, titleY: 1944, series: [proxChromatin1, proxChromatin2, proxChromatin3, proxChromatin4] });
drawLines({ l: 2664, r: 3420, t: 1561, b: 2313, x0: 2738, dx: 122.2, y1: 1658, unit: 269, gridStart: 1592, gridStep: 67.2, times: proximalExpressionTimes, labelY: 2382, titleX: 2518, titleY: 1944, series: [proxExpression1, proxExpression2, proxExpression3, proxExpression4] });
drawLines({ l: 1629, r: 2385, t: 2633, b: 3384, x0: 1772.5, dx: 235, y1: 2671, unit: 328, gridStart: 2671, gridStep: 82.1, times: chromatinTimes, labelY: 3453, titleX: 1482, titleY: 2989, series: [distChromatin1, distChromatin2, distChromatin3, distChromatin4] });
drawLines({ l: 2664, r: 3428, t: 2633, b: 3394, x0: 2738, dx: 123, y1: 2719, unit: 286.5, gridStart: 2647, gridStep: 71.6, times: distalExpressionTimes, labelY: 3463, titleX: 2514, titleY: 2989, series: [distExpression1, distExpression2, distExpression3, distExpression4] });
(function () {
  const g = group('panelE');
  
  
  [[1856, 1872], [2918, 2934]].forEach(start => {
    clusterNames.forEach((n, i) => {
      const step = start[0] < 2000 ? 70.4 : 70.6;
      const k = make('rect', g, { x: 3512, y: start[0] + i * step - 10, width: 58, height: 20, fill: clusterColors[i] });
      
      
      const t = write(g, 3580, start[1] + i * step, n, 'start');
      t.style.fontSize = '56px';
      
      
    });
  });
})();

/* ---------- PANEL F ---------- */
const ratioStops = [[0, '#ff1000'], [.15, '#ff5a00'], [.25, '#f58e00'], [.38, '#efaa00'], [.5, '#e0c400'], [.62, '#a4b85f'], [.75, '#50afaa'], [.8, '#00a8b4'], [1, '#0090a8']];
function ratioColor(r) { return ramp(ratioStops, (.4 - r) / .4); }
function drawFacet(c) {
  const g = group(c.parent);
  
  
  const sx = v => c.x0 + v * 12.24;
  const strip = make('rect', g, { x: c.l, y: c.t, width: c.r - c.l, height: c.rows[0] - c.t, fill: '#ebebeb', stroke: '#000', 'stroke-width': 7 });
  
  
  const s1 = write(g, (c.l + c.r) / 2, 3767, c.head, 'middle');
  
  
  const s2 = write(g, (c.l + c.r) / 2, 3835, c.sub, 'middle');
  
  
  [5, 15, 25, 35].forEach(v => {
    const m = make('line', g, { x1: sx(v), x2: sx(v), y1: c.rows[0], y2: c.rows[3], stroke: '#f0f0f0', 'stroke-width': 3 });
    
    
  });
  enrichmentTicks.forEach(v => {
    const m = make('line', g, { x1: sx(v), x2: sx(v), y1: c.rows[0], y2: c.rows[3], stroke: '#e8e8e8', 'stroke-width': 5 });
    
    
    const tk = write(g, sx(v) + 2, c.labelY, String(v), 'middle');
    
    
  });
  c.center.forEach(y => {
    const m = make('line', g, { x1: c.l, x2: c.r, y1: y, y2: y, stroke: '#e8e8e8', 'stroke-width': 6 });
    
    
    const tk = make('line', g, { x1: c.l - 12, x2: c.l, y1: y, y2: y, stroke: c.showLabels ? '#000' : '#666', 'stroke-width': 6 });
    
    
  });
  c.values.forEach((v, i) => {
    if (v <= 0) return;
    const b = make('rect', g, { x: sx(0), y: c.center[i] - 43, width: Math.max(2, v * 12.24), height: 86, fill: ratioColor(c.ratios[i]) });
    
    
  });
  const dots = make('line', g, { x1: sx(enrichmentThreshold), x2: sx(enrichmentThreshold), y1: c.rows[0] + 10, y2: c.rows[3], stroke: '#000', 'stroke-width': 6, 'stroke-dasharray': '6 22.5' });
  
  
  c.rows.forEach((y, i) => {
    if (i === 0) return;
    const rule = make('line', g, { x1: c.l, x2: c.r, y1: y, y2: y, stroke: '#000', 'stroke-width': 7 });
    
    
  });
  const lft = make('line', g, { x1: c.l, x2: c.l, y1: c.rows[0], y2: c.rows[3], stroke: '#000', 'stroke-width': 7 });
  
  
  const rgt = make('line', g, { x1: c.r, x2: c.r, y1: c.rows[0], y2: c.rows[3], stroke: '#000', 'stroke-width': 7 });
  
  
  if (c.showLabels) {
    enrichmentTerms.forEach((n, i) => {
      const t = write(g, c.termX, c.center[i] + 20, n, 'start');
      
      
    });
    enrichmentTimes.forEach((n, i) => {
      const mid = (c.center[i * 2] + c.center[i * 2 + 1]) / 2;
      const v = make('line', g, { x1: c.termX - 17, x2: c.termX - 17, y1: mid - 96, y2: mid + 96, stroke: '#000', 'stroke-width': 5 });
      
      
      const t = make('text', g, { transform: 'translate(' + c.timeX + ' ' + mid + ') rotate(-90)', 'text-anchor': 'middle' });
      t.textContent = n;
      
      
    });
    const h = make('text', g, { transform: 'translate(' + c.timeX + ' 3754) rotate(-90)', 'text-anchor': 'middle' });
    h.textContent = '[h] TGFβ1';
    h.style.fontSize = '60px';
    
    
  }
}
const proxCenters = [3907, 4002.5, 4097.6, 4195, 4290, 4386];
const distCenters = [3904.6, 4000, 4096, 4192, 4288, 4385];
drawFacet({ parent: 'panelFLeft', l: 488, r: 1024, t: 3709, rows: [3860, 4050, 4242, 4444], center: proxCenters, x0: 511, labelY: 4506, head: 'UP', sub: '(clusters 1 & 2)', values: proximalUpValues, ratios: proximalUpRatios, showLabels: true, termX: 354, timeX: 315 });
drawFacet({ parent: 'panelFLeft', l: 1061, r: 1596, t: 3709, rows: [3860, 4050, 4242, 4444], center: proxCenters, x0: 1085, labelY: 4506, head: 'DOWN', sub: '(clusters 3 & 4)', values: proximalDownValues, ratios: proximalDownRatios, showLabels: false });
drawFacet({ parent: 'panelFRight', l: 2068, r: 2603, t: 3706, rows: [3860, 4048, 4241, 4442], center: distCenters, x0: 2090, labelY: 4510, head: 'UP', sub: '(clusters 1, 2 & 4)', values: distalUpValues, ratios: distalUpRatios, showLabels: true, termX: 1932, timeX: 1897 });
drawFacet({ parent: 'panelFRight', l: 2638, r: 3174, t: 3706, rows: [3860, 4048, 4241, 4442], center: distCenters, x0: 2662, labelY: 4510, head: 'DOWN', sub: '(cluster 3)', values: distalDownValues, ratios: distalDownRatios, showLabels: false });
</script>
</body>
</html>
